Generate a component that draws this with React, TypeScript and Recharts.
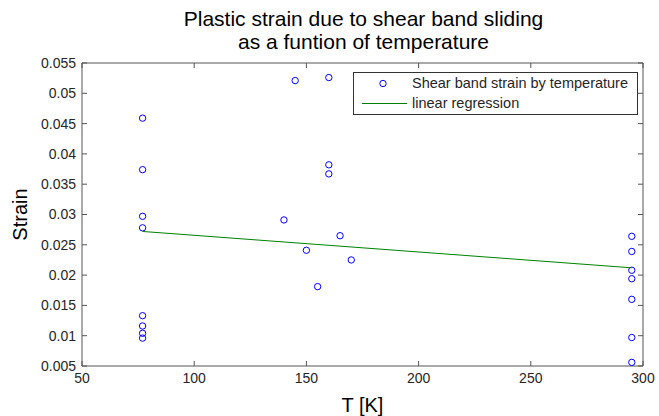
import { Legend, Scatter, ScatterChart, XAxis, YAxis } from 'recharts'

const tempTicks = [50, 100, 150, 200, 250, 300]
const strainTicks = [0.005, 0.01, 0.015, 0.02, 0.025, 0.03, 0.035, 0.04, 0.045, 0.05, 0.055]

const temps = [
  77, 77, 77, 77, 77, 77, 77, 77,
  140, 145, 150, 155, 160, 160, 160, 165, 170,
  295, 295, 295, 295, 295, 295, 295,
]
const strains = [
  0.0459, 0.0374, 0.0297, 0.0278, 0.0133, 0.0116, 0.0104, 0.0096,
  0.0291, 0.0521, 0.0241, 0.0181, 0.0526, 0.0382, 0.0367, 0.0265, 0.0225,
  0.0264, 0.0239, 0.0208, 0.0194, 0.016, 0.0097, 0.0056,
]

const regTemps = [77, 295]
const regStrains = [0.0272, 0.0212]

const points = temps.map((t, i) => ({ t, s: strains[i] }))
const regPoints = regTemps.map((t, i) => ({ t, s: regStrains[i] }))

const FONT = '"Liberation Sans", Arial, Helvetica, sans-serif'
const AXIS = '#555555'
const TEXT = '#262626'

const fmt = (v: number) => String(Number(v.toFixed(3)))

function Circle(props: any) {
  const { cx, cy } = props
  if (cx == null || cy == null) return <g />
  return <circle cx={cx} cy={cy} r={3.2} fill="none" stroke="#0000ff" strokeWidth={1} />
}

function LegendBox() {
  return (
    <svg width={286} height={44} style={{ display: 'block', fontFamily: FONT }}>
      <rect x={0.5} y={0.5} width={284} height={42} fill="#ffffff" stroke="#333333" />
      <circle cx={30} cy={11.5} r={3.2} fill="none" stroke="#0000ff" />
      <text x={59} y={16} fontSize={14.5} fill={TEXT}>
        Shear band strain by temperature
      </text>
      <line x1={9} x2={54} y1={31.5} y2={31.5} stroke="#008000" strokeWidth={1} />
      <text x={59} y={36} fontSize={14.5} fill={TEXT}>
        linear regression
      </text>
    </svg>
  )
}

// x label plus the two-line title, drawn from the bottom axis' label hook
function XTitle(p: any) {
  const vb = p.viewBox
  const cx = vb.x + vb.width / 2
  return (
    <g fontFamily={FONT} fill="#000">
      <text x={cx} y={412} textAnchor="middle" fontSize={20}>
        T [K]
      </text>
      <text textAnchor="middle" fontSize={21}>
        <tspan x={cx + 1} y={26}>Plastic strain due to shear band sliding</tspan>
        <tspan x={cx + 1} y={49}>as a funtion of temperature</tspan>
      </text>
    </g>
  )
}

function YTitle(p: any) {
  const vb = p.viewBox
  const cy = vb.y + vb.height / 2
  return (
    <text
      x={27}
      y={cy}
      transform={`rotate(-90, 27, ${cy})`}
      textAnchor="middle"
      fontSize={20}
      fill="#000"
      fontFamily={FONT}
    >
      Strain
    </text>
  )
}

export default function App() {
  return (
    <div style={{ position: 'absolute', left: 0, top: 0, background: '#ffffff' }}>
      <ScatterChart width={659} height={416} margin={{ top: 62, right: 15, bottom: 0, left: 0 }}>
        <XAxis
          dataKey="t"
          type="number"
          domain={[50, 300]}
          ticks={tempTicks}
          allowDataOverflow
          height={50}
          tickSize={-5}
          tickMargin={12}
          stroke={AXIS}
          tick={{ fill: TEXT, fontSize: 14, fontFamily: FONT }}
          label={XTitle}
        />
        <XAxis
          xAxisId="top"
          dataKey="t"
          orientation="top"
          type="number"
          domain={[50, 300]}
          ticks={tempTicks}
          allowDataOverflow
          height={1}
          tickSize={-5}
          stroke={AXIS}
          tickFormatter={() => ''}
        />
        <YAxis
          dataKey="s"
          type="number"
          domain={[0.005, 0.055]}
          ticks={strainTicks}
          allowDataOverflow
          width={82}
          tickSize={-5}
          tickMargin={11}
          stroke={AXIS}
          tickFormatter={fmt}
          tick={{ fill: TEXT, fontSize: 14, fontFamily: FONT }}
          label={YTitle}
        />
        <YAxis
          yAxisId="right"
          dataKey="s"
          orientation="right"
          type="number"
          domain={[0.005, 0.055]}
          ticks={strainTicks}
          allowDataOverflow
          width={1}
          tickSize={-5}
          stroke={AXIS}
          tickFormatter={() => ''}
        />
        <Legend
          layout="vertical"
          align="center"
          verticalAlign="middle"
          wrapperStyle={{ left: 353, top: 72, width: 286, height: 44 }}
          content={() => <LegendBox />}
        />
        <Scatter
          name="Shear band strain by temperature"
          data={points}
          shape={Circle}
          isAnimationActive={false}
        />
        <Scatter
          name="linear regression"
          xAxisId="top"
          yAxisId="right"
          data={regPoints}
          line={{ stroke: '#008000', strokeWidth: 1 }}
          shape={() => <g />}
          isAnimationActive={false}
        />
      </ScatterChart>
    </div>
  )
}
